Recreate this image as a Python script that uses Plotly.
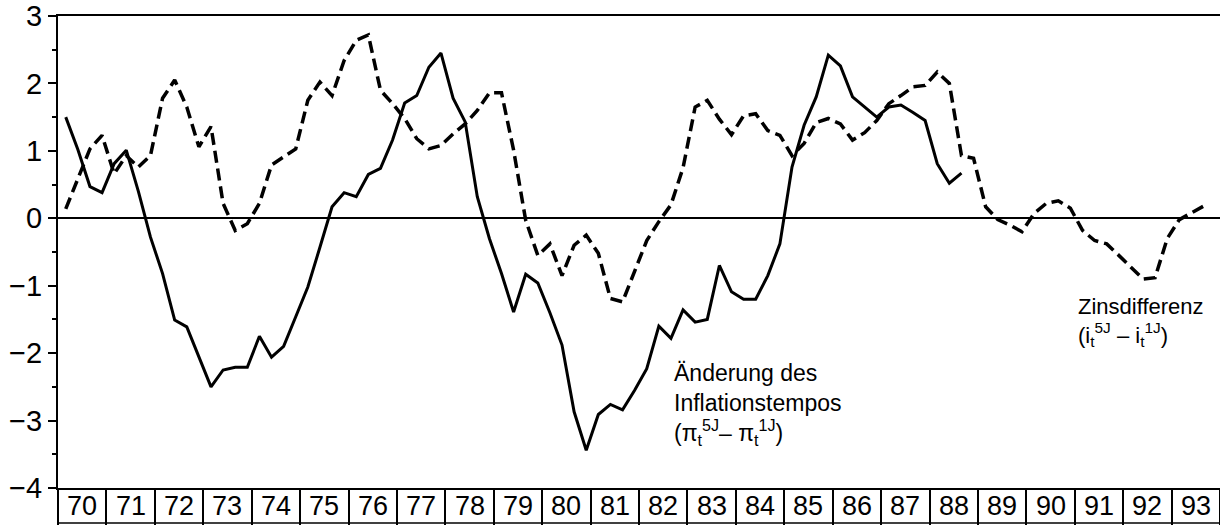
import plotly.graph_objects as go

# Quarterly data, 1970Q1 ...
inflation_change = [
    1.50, 1.02, 0.47, 0.38,
    0.81, 1.01, 0.40, -0.28,
    -0.82, -1.51, -1.61, -2.05,
    -2.50, -2.25, -2.21, -2.21,
    -1.75, -2.06, -1.90, -1.46,
    -1.02, -0.43, 0.17, 0.38,
    0.32, 0.65, 0.74, 1.16,
    1.71, 1.82, 2.24, 2.45,
    1.78, 1.43, 0.32, -0.30,
    -0.82, -1.39, -0.83, -0.96,
    -1.40, -1.88, -2.87, -3.44,
    -2.91, -2.76, -2.84, -2.55,
    -2.23, -1.60, -1.78, -1.36,
    -1.54, -1.50, -0.70, -1.09,
    -1.20, -1.20, -0.85, -0.38,
    0.76, 1.38, 1.80, 2.42,
    2.26, 1.80, 1.65, 1.50,
    1.65, 1.68, 1.57, 1.45,
    0.81, 0.52, 0.67,
]
interest_diff = [
    0.14, 0.60, 1.03, 1.23,
    0.66, 0.93, 0.76, 0.93,
    1.78, 2.05, 1.65, 1.06,
    1.36, 0.22, -0.18, -0.08,
    0.22, 0.79, 0.91, 1.03,
    1.75, 2.02, 1.82, 2.34,
    2.64, 2.72, 1.90, 1.70,
    1.48, 1.18, 1.03, 1.08,
    1.25, 1.40, 1.60, 1.86,
    1.86, 1.01, -0.03, -0.55,
    -0.38, -0.85, -0.40, -0.25,
    -0.52, -1.19, -1.24, -0.77,
    -0.33, -0.05, 0.20, 0.75,
    1.65, 1.75, 1.47, 1.24,
    1.52, 1.55, 1.30, 1.23,
    0.93, 1.11, 1.42, 1.48,
    1.40, 1.16, 1.27, 1.45,
    1.70, 1.82, 1.95, 1.97,
    2.17, 2.00, 0.93, 0.89,
    0.17, -0.02, -0.10, -0.20,
    0.07, 0.22, 0.26, 0.15,
    -0.18, -0.33, -0.38, -0.55,
    -0.72, -0.90, -0.88, -0.30,
    -0.02, 0.08, 0.18,
]
year_ticks = list(range(1970, 1995))
year_labels = ["70", "71", "72", "73", "74", "75", "76", "77", "78", "79", "80", "81",
               "82", "83", "84", "85", "86", "87", "88", "89", "90", "91", "92", "93"]
y_ticks = [-4, -3, -2, -1, 0, 1, 2, 3]
y_labels = ["−4", "−3", "−2", "−1", "0", "1", "2", "3"]


def quarter_x(n):
    return [1970 + i * 0.25 + 0.16 for i in range(n)]


fig = go.Figure()
fig.add_trace(go.Scatter(x=quarter_x(len(interest_diff)), y=interest_diff, mode="lines",
                         line=dict(color="black", width=3.5, dash="12px,6px"),
                         showlegend=False, hoverinfo="skip"))
fig.add_trace(go.Scatter(x=quarter_x(len(inflation_change)), y=inflation_change, mode="lines",
                         line=dict(color="black", width=3),
                         showlegend=False, hoverinfo="skip"))

W, H = 1220, 525
mt, mb = 16, 37
plot_h = H - mt - mb
base = "Liberation Sans, Arial, sans-serif"

fig.update_layout(
    width=W, height=H,
    margin=dict(l=58, r=0, t=mt, b=mb, autoexpand=False),
    paper_bgcolor="white", plot_bgcolor="white",
    font=dict(family=base, color="black"),
    xaxis=dict(range=[1970, 1994], tickvals=year_ticks, showticklabels=False,
               ticks="outside", ticklen=36, tickwidth=1.5, tickcolor="black",
               showline=True, linecolor="black", linewidth=2, mirror=True,
               showgrid=False, zeroline=False, automargin=False),
    yaxis=dict(range=[-4, 3], tickvals=y_ticks, ticktext=y_labels,
               ticks="outside", ticklen=8, tickwidth=2, tickcolor="black",
               tickfont=dict(size=29, family=base), automargin=False,
               showline=True, linecolor="black", linewidth=2, mirror=False,
               showgrid=False, zeroline=True, zerolinecolor="black", zerolinewidth=1.5,
               minor=dict(dtick=0.5, tick0=0, ticks="outside", ticklen=4,
                          tickwidth=1.5, tickcolor="black", showgrid=False)),
)

annotations = []
for yr, lab in zip(year_ticks, year_labels):
    annotations.append(dict(x=yr + 0.5, y=0, xref="x", yref="paper", yshift=-18,
                            text=lab, showarrow=False, yanchor="middle", xanchor="center",
                            font=dict(size=27, family=base)))

annotations.append(dict(
    x=1982.68, y=-2.76, xref="x", yref="y", xanchor="left", yanchor="middle", align="left",
    showarrow=False, font=dict(size=23, family=base),
    text="Änderung des<br>Inflationstempos<br>(π<sub>t</sub><sup>5J</sup>– π<sub>t</sub><sup>1J</sup>)"))
annotations.append(dict(
    x=1991.03, y=-1.54, xref="x", yref="y", xanchor="left", yanchor="middle", align="left",
    showarrow=False, font=dict(size=22, family=base),
    text="Zinsdifferenz<br>(i<sub>t</sub><sup>5J</sup> – i<sub>t</sub><sup>1J</sup>)"))
fig.update_layout(annotations=annotations)

fig.add_shape(type="line", xref="paper", yref="paper", x0=0, x1=1,
              y0=-(35 / plot_h), y1=-(35 / plot_h), line=dict(color="black", width=1.5))

fig.write_html("out.html", config={"displayModeBar": False},
               post_script="document.body.style.margin='0';document.body.style.overflow='hidden';")
